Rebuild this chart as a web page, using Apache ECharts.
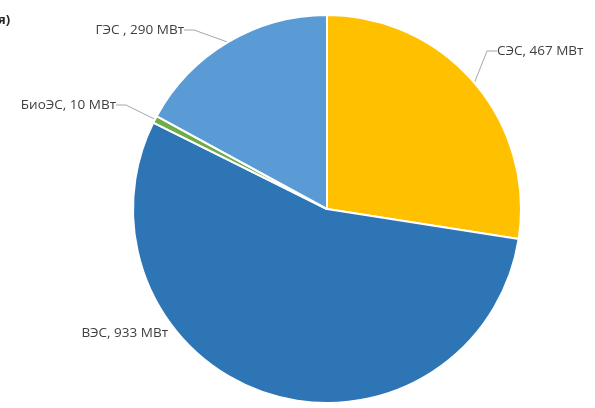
<!DOCTYPE html>
<html><head><meta charset="utf-8">
<script src="https://cdn.jsdelivr.net/npm/echarts@6/dist/echarts.min.js"></script>
<style>html,body{margin:0;padding:0;background:#fff;}#c{width:595px;height:408px;}</style>
</head><body><div id="c"></div>
<script>
const categories = ['СЭС', 'ВЭС', 'БиоЭС', 'ГЭС'];
const values = [467, 933, 10, 290];
const labelTexts = ['СЭС, 467 МВт', 'ВЭС, 933 МВт', 'БиоЭС, 10 МВт', 'ГЭС , 290 МВт'];
const colors = ['#FFC000', '#2E75B6', '#70AD47', '#5B9BD5'];
const labelPos = [
  {x: 497, y: 51, align: 'left'},
  {x: 168, y: 333, align: 'right'},
  {x: 116, y: 105, align: 'right'},
  {x: 184, y: 30, align: 'right'}
];
const chart = echarts.init(document.getElementById('c'));
chart.setOption({
  animation: false,
  graphic: [{type: 'text', left: -2, top: 14, style: {text: 'я)', font: 'bold 13px "Open Sans"', fill: '#262626'}}],
  series: [{
    type: 'pie',
    center: [327, 209],
    radius: 194,
    startAngle: 90,
    clockwise: true,
    itemStyle: {borderColor: '#fff', borderWidth: 2},
    label: {
      show: true,
      formatter: p => labelTexts[p.dataIndex],
      color: '#404040',
      fontFamily: 'Open Sans',
      fontSize: 13.5
    },
    labelLine: {show: true, length: 10, length2: 10, lineStyle: {color: '#a6a6a6', width: 1}},
    labelLayout: p => ({x: labelPos[p.dataIndex].x, y: labelPos[p.dataIndex].y, align: labelPos[p.dataIndex].align, verticalAlign: 'middle'}),
    data: categories.map((c, i) => ({
      name: c, value: values[i],
      itemStyle: {color: colors[i]},
      labelLine: {show: i !== 1}
    }))
  }]
});
</script></body></html>
